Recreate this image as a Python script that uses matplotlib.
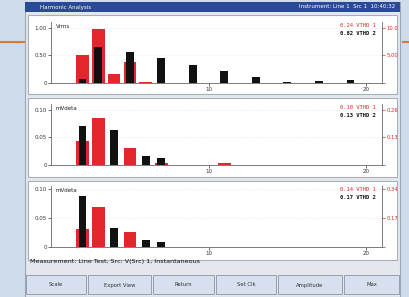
import numpy as np
import matplotlib.pyplot as plt
from matplotlib.patches import Rectangle

########## data ##########
harm = [2, 3, 4, 5, 6, 7, 9, 11, 13, 15, 17, 19]

# panel 1 (V rms)
p1_red = [0.50, 0.97, 0.16, 0.37, 0.02, 0.0, 0.0, 0.0, 0.0, 0.0, 0.0, 0.0]
p1_blk = [0.08, 0.65, 0.0, 0.56, 0.0, 0.45, 0.33, 0.22, 0.11, 0.01, 0.04, 0.05]
# panel 2
p2_red = [0.043, 0.084, 0.0, 0.030, 0.0, 0.004, 0.0, 0.003, 0.0, 0.0, 0.0, 0.0]
p2_blk = [0.070, 0.0, 0.0625, 0.0, 0.016, 0.0125, 0.0, 0.0, 0.0, 0.0, 0.0, 0.0]
# panel 3
p3_red = [0.031, 0.069, 0.0, 0.026, 0.0, 0.0, 0.0, 0.0, 0.0, 0.0, 0.0, 0.0]
p3_blk = [0.088, 0.0, 0.033, 0.0, 0.012, 0.009, 0.0, 0.0, 0.0, 0.0, 0.0, 0.0]

panels = [
    ('Vrms', p1_red, p1_blk, 1.10, [0, 0.5, 1.0], ['0', '0.50', '1.00'],
     '0.24 VTHD 1', '0.82 VTHD 2', ['', '5.00', '10.0']),
    ('mVdeta', p2_red, p2_blk, 0.11, [0, 0.05, 0.10], ['0', '0.05', '0.10'],
     '0.10 VTHD 1', '0.13 VTHD 2', ['', '0.13', '0.26']),
    ('mVdeta', p3_red, p3_blk, 0.105, [0, 0.05, 0.10], ['0', '0.05', '0.10'],
     '0.14 VTHD 1', '0.17 VTHD 2', ['', '0.17', '0.34']),
]
x_ticks = [10, 20]
buttons = ['Scale', 'Export View', 'Return', 'Set Clk', 'Amplitude', 'Max']
status = 'Measurement: Line Test, Src: V(Src) 1, Instantaneous'

RED = '#e3262b'
W, H = 410, 297

fig = plt.figure(figsize=(4.1, 2.97), dpi=100)
fig.patch.set_facecolor('#cfdcec')

############ background / window chrome in pixel coords ############
bg = fig.add_axes([0, 0, 1, 1])
bg.set_xlim(0, W)
bg.set_ylim(H, 0)
bg.axis('off')
bg.add_patch(Rectangle((25, 2), 375, 295, fc='#e4e8ee', ec='#9aa6b8', lw=0.8))
bg.add_patch(Rectangle((25, 2), 375, 10, fc='#2a4a98', ec='none'))
bg.text(40, 7, 'Harmonic Analysis', color='white', fontsize=4, va='center')
bg.text(395, 7, 'Instrument: Line 1  Src 1  10:40:32', color='white', fontsize=4,
        va='center', ha='right')
for top in [15, 98, 181]:
    bg.add_patch(Rectangle((28, top), 369, 79, fc='white', ec='#a8afba', lw=0.8))
bg.text(30, 262, status, fontsize=4.6, va='center', color='#111111')
edges = [25, 87, 152, 215, 277, 343, 400]
for i, lab in enumerate(buttons):
    bg.add_patch(Rectangle((edges[i] + 1, 275), edges[i + 1] - edges[i] - 2, 19,
                           fc='#d6e0ee', ec='#8a94a6', lw=0.6))
    bg.text((edges[i] + edges[i + 1]) / 2, 285, lab, fontsize=3.8, ha='center',
            va='center', color='#333333')
bg.plot([0, 24], [42, 42], color='#e2772e', lw=1.5)
bg.plot([403, 410], [42, 42], color='#e2772e', lw=1.5)

############ harmonic bar panels ############
baselines = [83, 165, 247]
for (unit, red, blk, ymax, yt, ytl, r_txt, b_txt, rtl), base in zip(panels, baselines):
    ax = fig.add_axes([51 / W, (H - base) / H, 331 / W, 61 / H])
    ax.bar(harm, red, width=0.8, color=RED, zorder=2)
    ax.bar(harm, blk, width=0.5, color='#111111', zorder=3)
    ax.set_xlim(0, 21)
    ax.set_ylim(0, ymax)
    ax.set_facecolor('none')
    ax.set_xticks(x_ticks)
    ax.set_xticklabels([str(t) for t in x_ticks])
    ax.set_yticks(yt)
    ax.set_yticklabels(ytl)
    ax.tick_params(labelsize=4, length=2, width=0.5, pad=1, colors='#333333')
    for s in ['left', 'bottom', 'right']:
        ax.spines[s].set_color('#666666')
        ax.spines[s].set_linewidth(0.6)
    ax.spines['top'].set_visible(False)
    ax.grid(axis='y', color='#dddddd', lw=0.4, ls=':')
    ax.set_axisbelow(True)
    ax.text(0.3, ymax * 0.97, unit, fontsize=4, va='top', color='#222222')
    ax.text(20.6, ymax * 0.99, r_txt, fontsize=4, va='top', ha='right', color=RED,
            family='DejaVu Sans Mono')
    ax.text(20.6, ymax * 0.86, b_txt, fontsize=4, va='top', ha='right', color='#111111',
            family='DejaVu Sans Mono', weight='bold')
    ax2 = ax.twinx()
    ax2.set_ylim(0, ymax)
    ax2.set_yticks(yt)
    ax2.set_yticklabels(rtl)
    ax2.tick_params(labelsize=3.8, length=2, width=0.5, pad=1, colors=RED)
    for s in ax2.spines.values():
        s.set_visible(False)

fig.savefig('out.png', dpi=100, facecolor=fig.get_facecolor())
